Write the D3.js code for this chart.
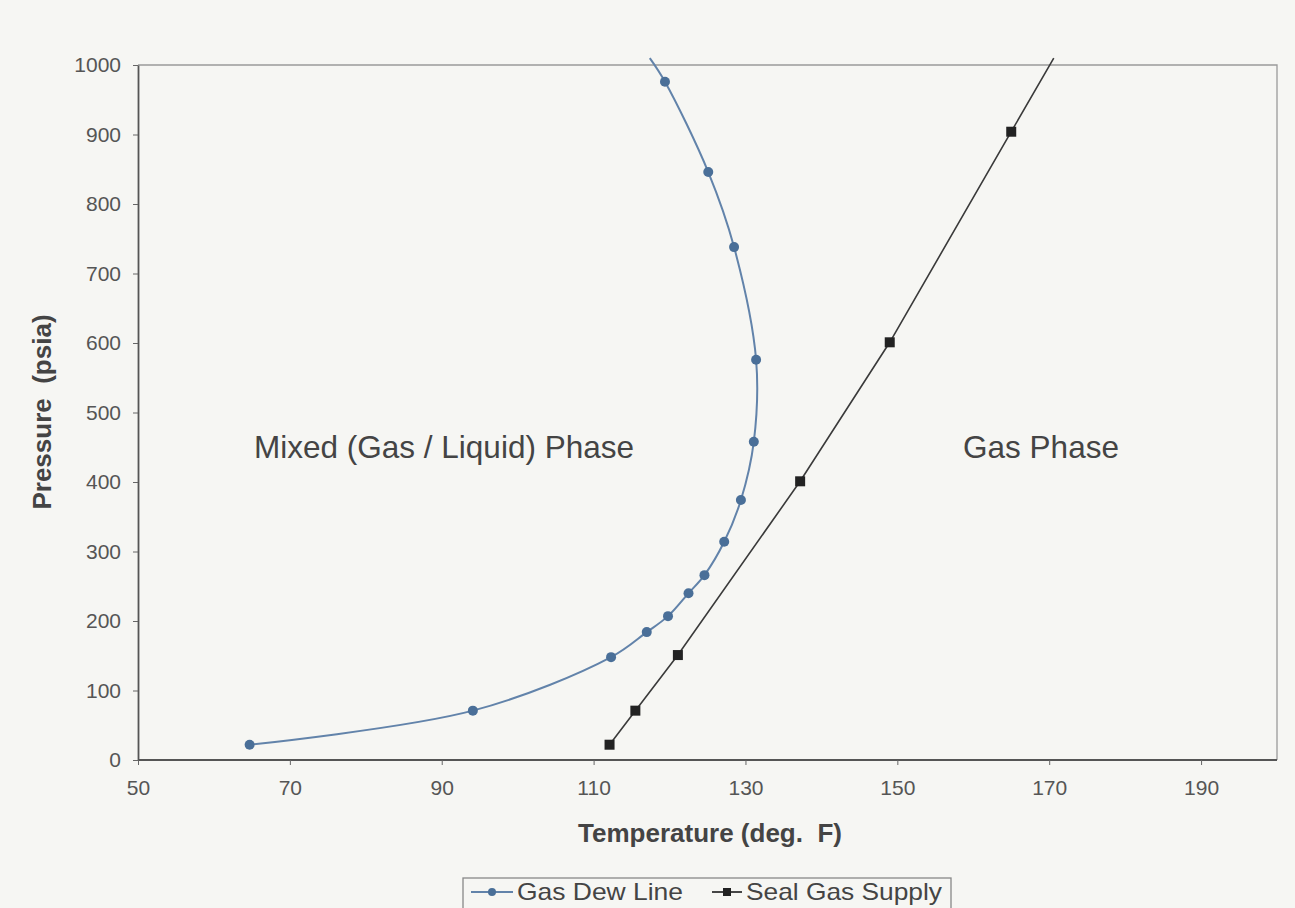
<!DOCTYPE html>
<html>
<head>
<meta charset="utf-8">
<script src="https://cdn.jsdelivr.net/npm/d3@7"></script>
<style>
  body { margin: 0; background: #f6f6f3; }
  svg { display: block; font-family: "Liberation Sans", Arial, sans-serif; }
  .tick text { fill: #555; font-size: 21px; }
</style>
</head>
<body>
<svg id="chart" width="1295" height="908"></svg>
<script>
// Gas dew line (temperature deg F, pressure psia)
const dewTemp = [64.7, 94.1, 112.3, 117.0, 119.8, 122.5, 124.6, 127.2, 129.4, 131.1, 131.4, 128.5, 125.1, 119.4, 117.4]
const dewPress = [22, 71, 148, 184, 207, 240, 266, 314, 374, 458, 576, 738, 846, 976, 1010]
// Seal gas supply
const sealTemp = [112.1, 115.5, 121.1, 137.2, 149.0, 165.0, 170.6]
const sealPress = [22, 71, 151, 401, 601, 904, 1010]
const xTicks = [50, 70, 90, 110, 130, 150, 170, 190]
const yTicks = [0, 100, 200, 300, 400, 500, 600, 700, 800, 900, 1000]
const seriesNames = ["Gas Dew Line", "Seal Gas Supply"]

const svg = d3.select("#chart")
const m = { left: 138, top: 65, right: 1277, bottom: 760 }

const x = d3.scaleLinear().domain([50, 200]).range([m.left, m.right])
const y = d3.scaleLinear().domain([0, 1000]).range([m.bottom, m.top])

// top / right frame
svg.append("path")
  .attr("d", `M${m.left},${m.top}H${m.right}V${m.bottom}`)
  .attr("fill", "none").attr("stroke", "#9a9a9a").attr("stroke-width", 1.3)

const xAxis = svg.append("g")
  .attr("transform", `translate(0,${m.bottom})`)
  .call(d3.axisBottom(x).tickValues(xTicks).tickFormat(d3.format("d")).tickSize(5).tickPadding(15).tickSizeOuter(0))
const yAxis = svg.append("g")
  .attr("transform", `translate(${m.left},0)`)
  .call(d3.axisLeft(y).tickValues(yTicks).tickFormat(d3.format("d")).tickSize(5).tickPadding(12).tickSizeOuter(0))

;[xAxis, yAxis].forEach(a => {
  a.select(".domain").attr("stroke", "#555").attr("stroke-width", 1.8)
  a.selectAll(".tick line").attr("stroke", "#666")
  a.selectAll(".tick text").attr("font-family", "Liberation Sans, Arial, sans-serif")
})
// keep the x axis line running to the right edge
xAxis.select(".domain").attr("d", `M${m.left},0H${m.right}`)

const dew = dewTemp.map((t, i) => ({ t, p: dewPress[i] }))
const seal = sealTemp.map((t, i) => ({ t, p: sealPress[i] }))

svg.append("path")
  .datum(dew)
  .attr("d", d3.line().x(d => x(d.t)).y(d => y(d.p)).curve(d3.curveCatmullRom.alpha(0.5)))
  .attr("fill", "none").attr("stroke", "#6283aa").attr("stroke-width", 2)

svg.append("path")
  .datum(seal)
  .attr("d", d3.line().x(d => x(d.t)).y(d => y(d.p)))
  .attr("fill", "none").attr("stroke", "#3a3a3a").attr("stroke-width", 1.6)

// markers only inside the plot area
svg.selectAll(".dew-pt")
  .data(dew.filter(d => d.p <= 1000)).enter()
  .append("circle")
    .attr("class", "dew-pt")
    .attr("cx", d => x(d.t))
    .attr("cy", d => y(d.p))
    .attr("r", 5)
    .attr("fill", "#4a6f98")

svg.selectAll(".seal-pt")
  .data(seal.filter(d => d.p <= 1000)).enter()
  .append("rect")
    .attr("class", "seal-pt")
    .attr("x", d => x(d.t) - 5)
    .attr("y", d => y(d.p) - 5)
    .attr("width", 10).attr("height", 10)
    .attr("fill", "#222")

// region labels
svg.append("text")
  .attr("x", 444).attr("y", 458)
  .attr("text-anchor", "middle")
  .attr("font-size", 31.5).attr("fill", "#444")
  .text("Mixed (Gas / Liquid) Phase")
svg.append("text")
  .attr("x", 1041).attr("y", 458)
  .attr("text-anchor", "middle")
  .attr("font-size", 31.5).attr("fill", "#444")
  .text("Gas Phase")

// axis titles
svg.append("text")
  .attr("x", 710).attr("y", 842)
  .attr("text-anchor", "middle")
  .attr("font-size", 26).attr("font-weight", "bold").attr("fill", "#444")
  .attr("xml:space", "preserve")
  .text("Temperature (deg.  F)")
svg.append("text")
  .attr("transform", "translate(51,412) rotate(-90)")
  .attr("text-anchor", "middle")
  .attr("font-size", 26).attr("font-weight", "bold").attr("fill", "#444")
  .attr("xml:space", "preserve")
  .text("Pressure  (psia)")

// legend
const lg = svg.append("g").attr("transform", "translate(463,878)")
lg.append("rect")
  .attr("width", 488).attr("height", 40)
  .attr("fill", "#f6f6f3").attr("stroke", "#888").attr("stroke-width", 1.3)

const lineLen = [42, 30]
const items = lg.selectAll(".item")
  .data(seriesNames).enter()
  .append("g")
    .attr("transform", (d, i) => `translate(${i === 0 ? 8 : 249},14)`)
items.append("line")
  .attr("x1", 0).attr("x2", (d, i) => lineLen[i]).attr("y1", 0).attr("y2", 0)
  .attr("stroke", (d, i) => i === 0 ? "#6283aa" : "#333").attr("stroke-width", 1.8)
items.filter((d, i) => i === 0).append("circle")
  .attr("cx", 21).attr("r", 4).attr("fill", "#4a6f98")
items.filter((d, i) => i === 1).append("rect")
  .attr("x", 11).attr("y", -4).attr("width", 8).attr("height", 8).attr("fill", "#222")
items.append("text")
  .attr("x", (d, i) => lineLen[i] + 4).attr("y", 8)
  .attr("font-size", 24).attr("fill", "#444")
  .attr("textLength", (d, i) => i === 0 ? 166 : 196)
  .attr("lengthAdjust", "spacingAndGlyphs")
  .text(d => d)
</script>
</body>
</html>
